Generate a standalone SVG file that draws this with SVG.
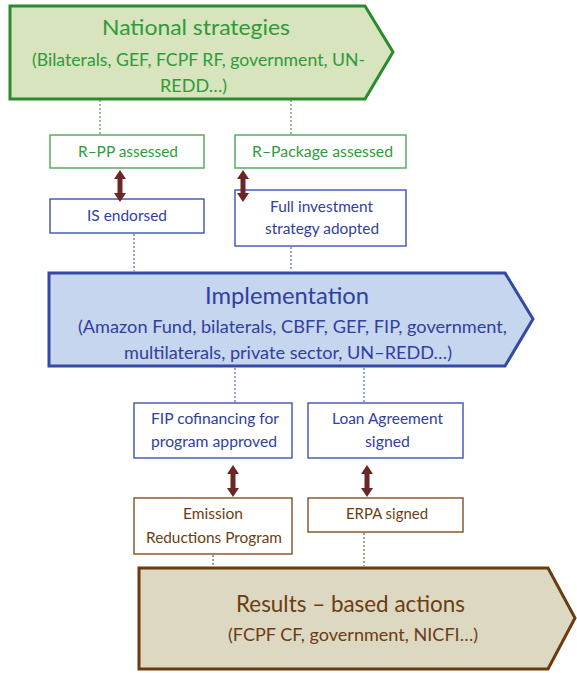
<svg xmlns="http://www.w3.org/2000/svg" width="577" height="673" viewBox="0 0 577 673">
<style>
text{font-family:Lato,"Open Sans","Liberation Sans",sans-serif;}
.big{stroke-width:3;stroke-linejoin:miter}
.g{fill:#d7e4bd;stroke:#2a8a2e}
.b{fill:#c6d6ee;stroke:#3448a6}
.r{fill:#ddd8c2;stroke:#6b3a10}
.gb{fill:#fff;stroke:#5aad5e;stroke-width:1.5}
.bb{fill:#fff;stroke:#4a5cb8;stroke-width:1.5}
.rb{fill:#fff;stroke:#8a5a30;stroke-width:1.5}
.gt{fill:#2f9a3a}
.bt{fill:#3040a0}
.rt{fill:#6b3d12}
.dg{stroke:#2a8a2e;stroke-width:1;stroke-dasharray:2 2;fill:none}
.db{stroke:#3448a6;stroke-width:1;stroke-dasharray:2 2;fill:none}
.dr{stroke:#6b3a10;stroke-width:1;stroke-dasharray:2 2;fill:none}
.s{font-size:14.5px}
</style>
<defs>
<polygon id="darr" points="0,0 6,9 2.5,9 2.5,23 6,23 0,32 -6,23 -2.5,23 -2.5,9 -6,9" fill="#6b2626"/>
</defs>
<g id="national">
<polygon class="big g" points="10,6 365,6 393,52 365,99 10,99"/>
<text class="gt" x="102" y="35" font-size="22" textLength="188" lengthAdjust="spacingAndGlyphs">National strategies</text>
<text class="gt" x="32" y="66" font-size="16.5" textLength="333" lengthAdjust="spacingAndGlyphs">(Bilaterals, GEF, FCPF RF, government, UN-</text>
<text class="gt" x="160" y="92" font-size="16.5" textLength="67" lengthAdjust="spacingAndGlyphs">REDD…)</text>
</g>
<g id="rpp">
<rect class="gb" x="50" y="135" width="154" height="33"/>
<text class="gt s" x="78" y="157" textLength="100" lengthAdjust="spacingAndGlyphs">R–PP assessed</text>
</g>
<g id="rpackage">
<rect class="gb" x="235" y="135" width="171" height="33"/>
<text class="gt s" x="252" y="157" textLength="141" lengthAdjust="spacingAndGlyphs">R–Package assessed</text>
</g>
<g id="is">
<rect class="bb" x="50" y="199" width="154" height="34"/>
<text class="bt s" x="87" y="221" textLength="80" lengthAdjust="spacingAndGlyphs">IS endorsed</text>
</g>
<g id="fullinv">
<rect class="bb" x="235" y="190" width="171" height="56"/>
<text class="bt s" x="270" y="212" textLength="103" lengthAdjust="spacingAndGlyphs">Full investment</text>
<text class="bt s" x="265" y="234" textLength="114" lengthAdjust="spacingAndGlyphs">strategy adopted</text>
</g>
<g id="implementation">
<polygon class="big b" points="49,273 505,273 533,319 505,366 49,366"/>
<text class="bt" x="205" y="304" font-size="23" textLength="164" lengthAdjust="spacingAndGlyphs">Implementation</text>
<text class="bt" x="78" y="333" font-size="16.5" textLength="429" lengthAdjust="spacingAndGlyphs">(Amazon Fund, bilaterals, CBFF, GEF, FIP, government,</text>
<text class="bt" x="124" y="359" font-size="16.5" textLength="328" lengthAdjust="spacingAndGlyphs">multilaterals, private sector, UN–REDD…)</text>
</g>
<g id="fip">
<rect class="bb" x="134" y="403" width="158" height="55"/>
<text class="bt s" x="151" y="424" textLength="128" lengthAdjust="spacingAndGlyphs">FIP cofinancing for</text>
<text class="bt s" x="151" y="447" textLength="126" lengthAdjust="spacingAndGlyphs">program approved</text>
</g>
<g id="loan">
<rect class="bb" x="308" y="403" width="155" height="55"/>
<text class="bt s" x="332" y="424" textLength="111" lengthAdjust="spacingAndGlyphs">Loan Agreement</text>
<text class="bt s" x="365" y="447" textLength="45" lengthAdjust="spacingAndGlyphs">signed</text>
</g>
<g id="emission">
<rect class="rb" x="134" y="498" width="158" height="56"/>
<text class="rt s" x="183" y="519" textLength="60" lengthAdjust="spacingAndGlyphs">Emission</text>
<text class="rt s" x="146" y="543" textLength="136" lengthAdjust="spacingAndGlyphs">Reductions Program</text>
</g>
<g id="erpa">
<rect class="rb" x="308" y="498" width="155" height="34"/>
<text class="rt s" x="346" y="519" textLength="82" lengthAdjust="spacingAndGlyphs">ERPA signed</text>
</g>
<g id="results">
<polygon class="big r" points="139,568 548,568 575,618 548,669 139,669"/>
<text class="rt" x="236" y="612" font-size="23" textLength="229" lengthAdjust="spacingAndGlyphs">Results – based actions</text>
<text class="rt" x="228" y="641" font-size="16.5" textLength="250" lengthAdjust="spacingAndGlyphs">(FCPF CF, government, NICFI…)</text>
</g>
<g id="connectors">
<line class="dg" x1="100" y1="100" x2="100" y2="134"/>
<line class="dg" x1="291" y1="100" x2="291" y2="134"/>
<line class="db" x1="134" y1="234" x2="134" y2="271"/>
<line class="db" x1="291" y1="247" x2="291" y2="271"/>
<line class="db" x1="235" y1="368" x2="235" y2="402"/>
<line class="db" x1="364" y1="368" x2="364" y2="402"/>
<line class="dr" x1="213" y1="555" x2="213" y2="566"/>
<line class="dr" x1="364" y1="533" x2="364" y2="566"/>
<use href="#darr" x="120" y="170"/>
<use href="#darr" x="243" y="170"/>
<use href="#darr" x="233" y="465"/>
<use href="#darr" x="367" y="465"/>
</g>
</svg>
